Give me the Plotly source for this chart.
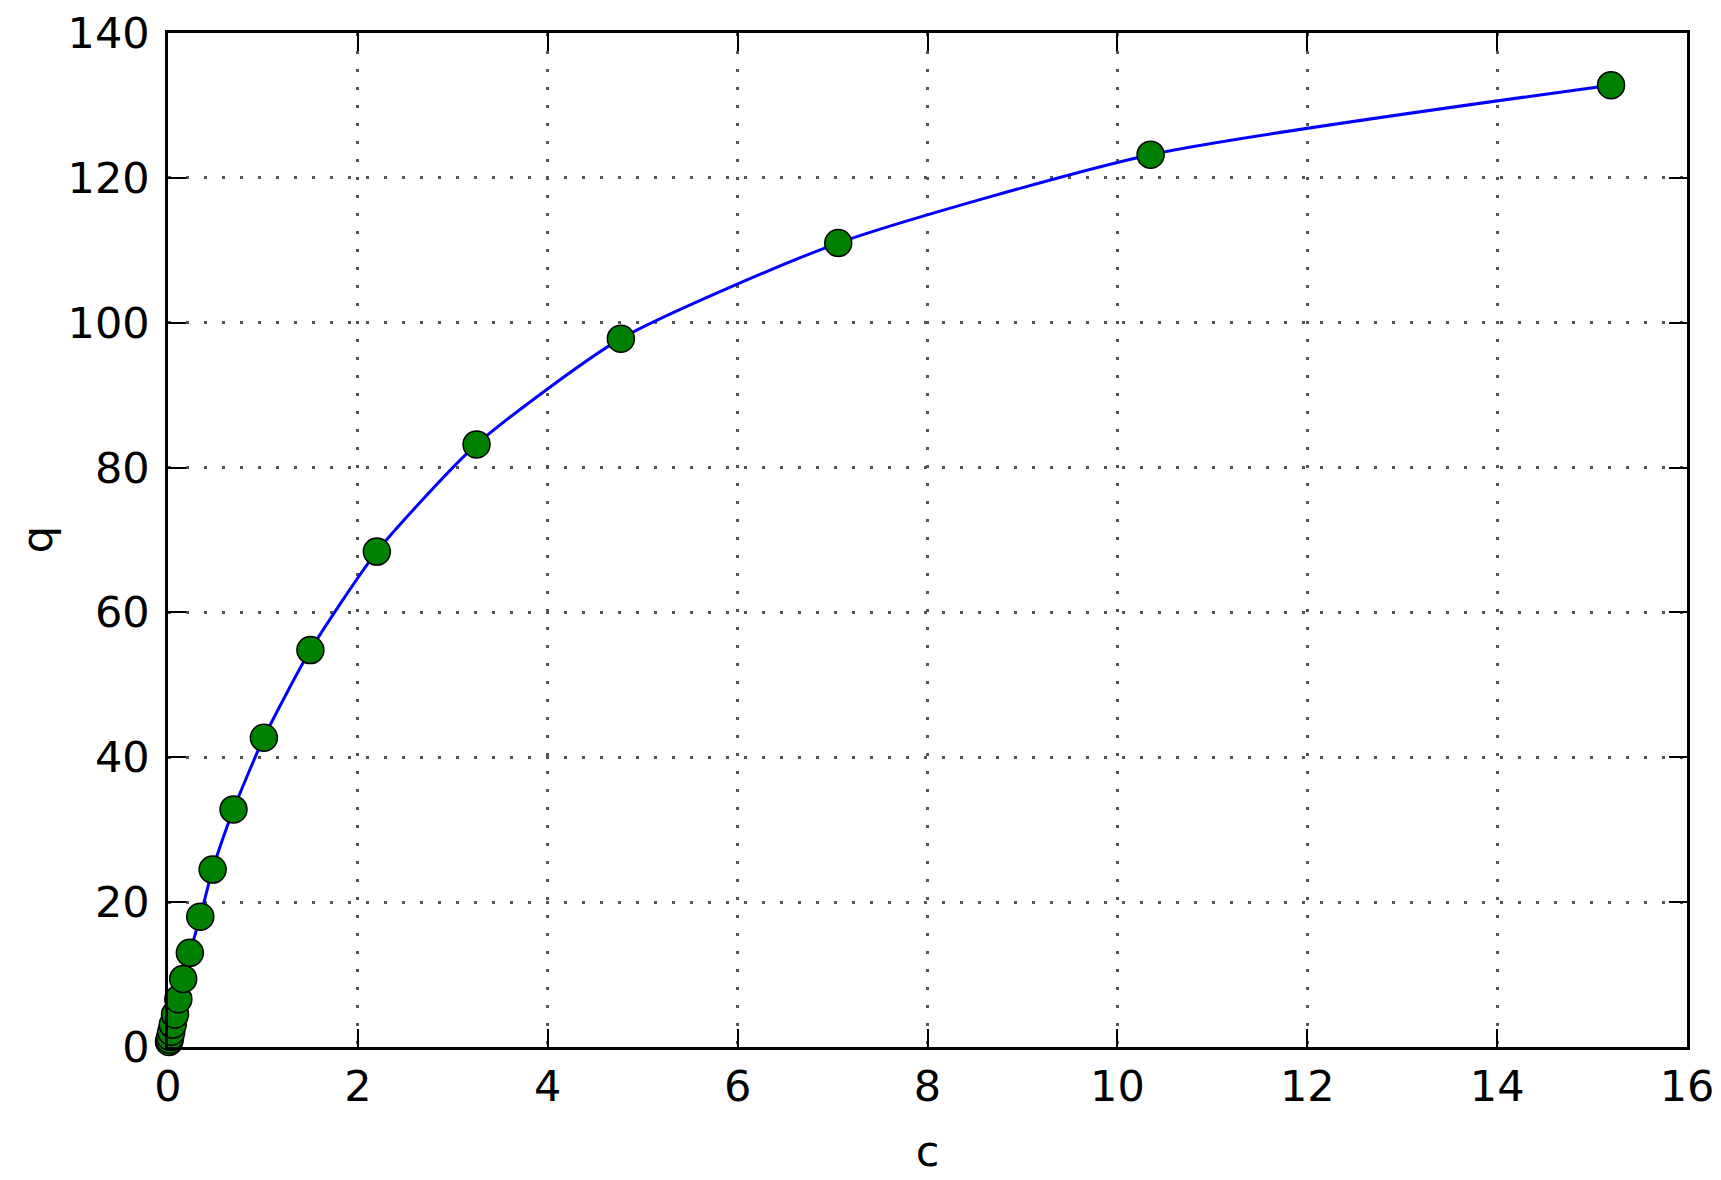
import plotly.graph_objects as go

# concentration c and loading q
c_vals = [0.011, 0.016, 0.023, 0.034, 0.050, 0.074, 0.109, 0.16, 0.23, 0.34,
          0.47, 0.69, 1.01, 1.50, 2.20, 3.25, 4.77, 7.06, 10.35, 15.20]
q_vals = [0.7, 1.0, 1.4, 2.1, 3.1, 4.5, 6.6, 9.4, 13.0, 18.0,
          24.5, 32.8, 42.7, 54.8, 68.4, 83.2, 97.8, 111.0, 123.2, 132.8]

x_ticks = [0, 2, 4, 6, 8, 10, 12, 14, 16]
y_ticks = [0, 20, 40, 60, 80, 100, 120, 140]

FONT = "DejaVu Sans, Liberation Sans, sans-serif"

fig = go.Figure()
fig.add_trace(go.Scatter(
    x=c_vals, y=q_vals,
    mode="lines+markers",
    line=dict(color="#0000ff", width=3, shape="spline", smoothing=0.6),
    marker=dict(color="#008000", size=27, line=dict(color="black", width=1.5)),
    showlegend=False,
    cliponaxis=False,
))

axis_common = dict(
    showline=True, linecolor="black", linewidth=2.5, mirror="ticks",
    ticks="inside", ticklen=18, tickwidth=2, tickcolor="black",
    showgrid=True, gridcolor="#555555", gridwidth=2.5, griddash="3px,15px",
    zeroline=False, automargin=False,
    tickfont=dict(family=FONT, size=43, color="black"),
    title_font=dict(family=FONT, size=43, color="black"),
)

fig.update_xaxes(
    range=[0, 16], tickvals=x_ticks, ticklabelstandoff=0,
    title_text="c", title_standoff=26,
    **axis_common,
)
fig.update_yaxes(
    range=[0, 140], tickvals=y_ticks, ticklabelstandoff=7,
    **axis_common,
)

# y title as an annotation so it sits further out, like the reference
fig.add_annotation(
    text="q", xref="paper", yref="paper", x=-0.086, y=0.5,
    xanchor="center", yanchor="middle", textangle=-90, showarrow=False,
    font=dict(family=FONT, size=43, color="black"),
)

# page body has an 8px margin, so the figure is a bit smaller than the window
fig.update_layout(
    width=1713, height=1172,
    margin=dict(l=160, r=34, t=25, b=133),
    paper_bgcolor="white", plot_bgcolor="white",
    font=dict(family=FONT, color="black"),
)

fig.write_html("out.html")
